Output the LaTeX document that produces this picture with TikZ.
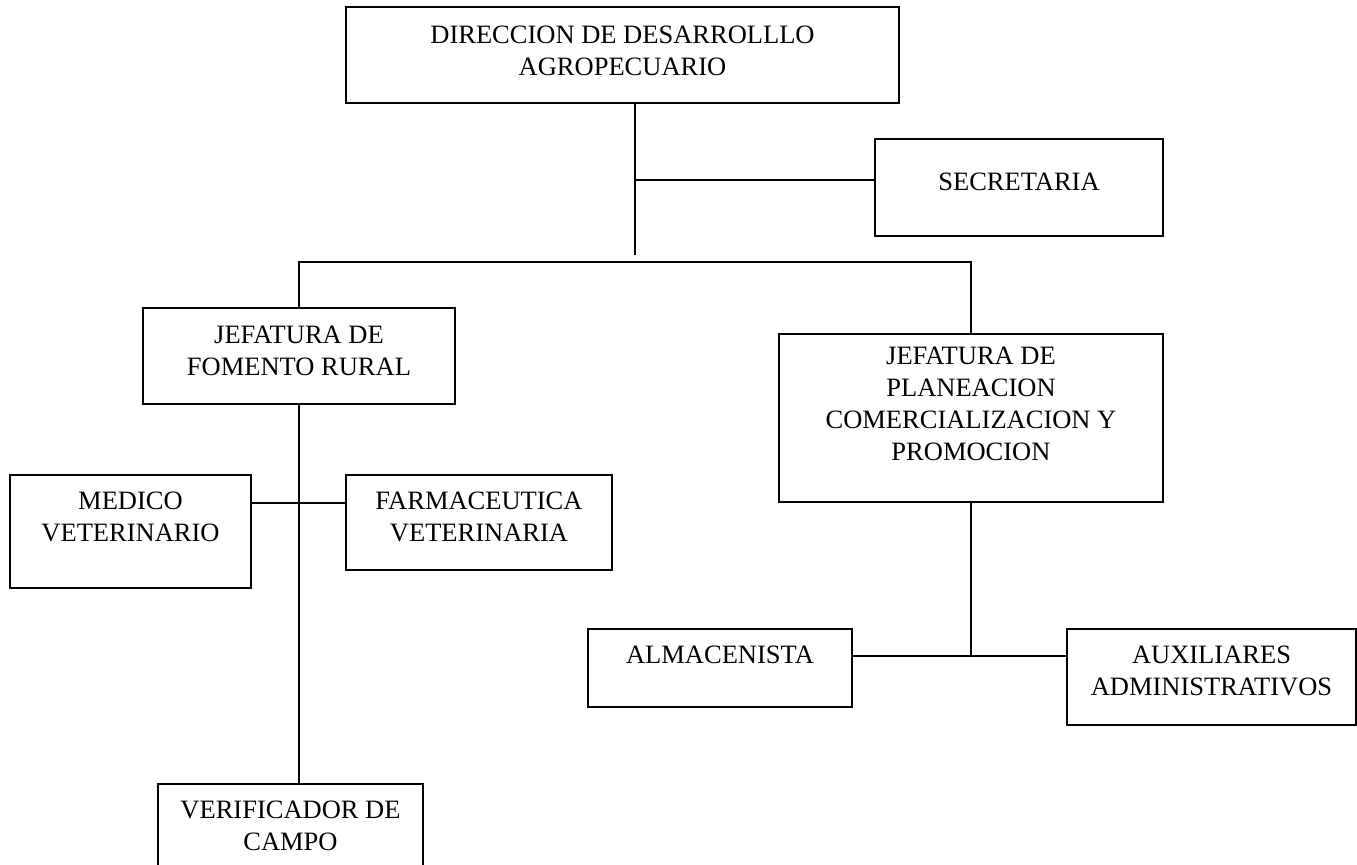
\documentclass[tikz,border=0pt]{standalone}
\usepackage{fontspec}
\setmainfont{Liberation Serif}
\usepackage{tikz}
\usetikzlibrary{positioning}

\tikzset{
	box/.style={draw, line width=1pt, inner sep=0pt},
	lbl/.style={align=center, inner sep=0pt, font=\fontsize{13.25pt}{16pt}\selectfont},
	link/.style={line width=1pt},
}

\begin{document}
\begin{tikzpicture}[x=0.5pt,y=-0.5pt]
	\useasboundingbox (0,0) rectangle (1357,864);

	\coordinate (trunk) at (635,255);
	\coordinate (secj) at (635,180);
	\coordinate (bus) at (635,262);
	\coordinate (fomj) at (299,503);
	\coordinate (plaj) at (971,656);

	\node[box, minimum width=276.5pt, minimum height=48pt] (dir) at (622.5,55) {};
	\node[box, minimum width=144pt, minimum height=48.5pt] (sec) at (1019,187.5) {};
	\node[box, minimum width=156pt, minimum height=48pt] (fom) at (299,356) {};
	\node[box, minimum width=192pt, minimum height=84pt] (pla) at (971,418) {};
	\node[box, minimum width=120.5pt, minimum height=56.5pt] (med) at (130.5,531.5) {};
	\node[box, minimum width=133pt, minimum height=47.5pt] (far) at (479,522.5) {};
	\node[box, minimum width=132.5pt, minimum height=50pt] (ver) at (290.5,834) {};
	\node[box, minimum width=132pt, minimum height=39pt] (alm) at (720,668) {};
	\node[box, minimum width=144.5pt, minimum height=48pt] (aux) at (1211.5,677) {};

	\node[lbl, below=9.6pt of dir.north] (dirT) {DIRECCION DE DESARROLLLO\\AGROPECUARIO};
	\node[lbl, below=17.1pt of sec.north] (secT) {SECRETARIA};
	\node[lbl, below=9.1pt of fom.north] (fomT) {JEFATURA DE\\FOMENTO RURAL};
	\node[lbl, below=6.6pt of pla.north] (plaT) {JEFATURA DE\\PLANEACION\\COMERCIALIZACION Y\\PROMOCION};
	\node[lbl, below=8.6pt of med.north] (medT) {MEDICO\\VETERINARIO};
	\node[lbl, below=8.6pt of far.north] (farT) {FARMACEUTICA\\VETERINARIA};
	\node[lbl, below=8.6pt of ver.north] (verT) {VERIFICADOR DE\\CAMPO};
	\node[lbl, below=8.6pt of alm.north] (almT) {ALMACENISTA};
	\node[lbl, below=8.6pt of aux.north] (auxT) {AUXILIARES\\ADMINISTRATIVOS};

	\draw[link] (dir.south -| trunk) -- (trunk);
	\draw[link] (secj) -- (secj -| sec.west);
	\draw[link] (fom.north) -- (fom.north |- bus) -| (pla.north);
	\draw[link] (fom.south) -- (fom.south |- ver.north);
	\draw[link] (fomj -| med.east) -- (fomj -| far.west);
	\draw[link] (pla.south) -- (plaj);
	\draw[link] (plaj -| alm.east) -- (plaj -| aux.west);
\end{tikzpicture}
\end{document}
